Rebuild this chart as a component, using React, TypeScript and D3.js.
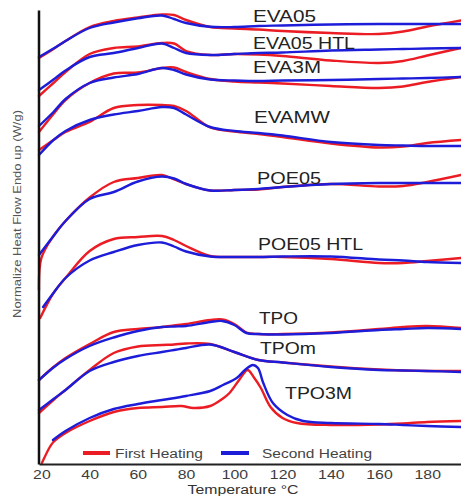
import React, { useEffect, useRef } from "react";
import * as d3 from "d3";

const width = 461;
const height = 496;
const font = "'Liberation Sans', Arial, sans-serif";
const red = "#ec1c24";
const blue = "#1c1cd9";

// temperature grid (°C) shared by most traces
const tempGrid = [19, 25, 30, 40, 50, 60, 70, 75, 80, 90, 100, 110, 120, 140, 160, 170, 180, 194];
const tickTemps = [20, 40, 60, 80, 100, 120, 140, 160, 180];

// normalized heat flow, stacked offsets (a.u.)
const eva05First = [406, 415, 423, 437, 443, 446.5, 449.5, 449, 444, 437, 435.5, 434.5, 433, 431, 430, 432.5, 437.5, 443.5];
const eva05Second = [407, 415.5, 423, 436, 441.5, 445.7, 448.5, 445, 441, 437.2, 437, 438, 438.5, 439.5, 440, 440, 440, 440];

const eva05HtlFirst = [368, 381, 392, 410, 416, 417.5, 421, 420.5, 413, 409, 410, 409.5, 408, 403.5, 401, 403, 408.5, 416];
const eva05HtlSecond = [374, 384.5, 393.5, 407, 411, 416, 420.5, 416, 411, 409, 410, 411, 411.5, 413.5, 414.5, 415, 415.5, 416];

const eva3mFirst = [332, 350, 364, 381, 390.5, 391.5, 396, 396.5, 392, 385, 382.5, 381.5, 380.5, 378, 376, 377.5, 382, 387];
const eva3mSecond = [338, 352, 365, 381, 386.5, 390, 396, 394, 389.5, 384.5, 383.5, 383, 383.5, 384, 385, 385.5, 386, 387];

const evamwFirst = [314, 324, 332, 342, 356, 359, 359, 358, 353, 336.5, 332.5, 330, 327, 320.5, 316.5, 317.5, 321, 324];
const evamwSecond = [309, 324, 333, 344, 349.5, 353, 357, 356, 349.5, 337, 333, 331, 328.5, 322, 319, 318.5, 318, 318];

const poe05FirstTemps = [19, 20, 25, 30, 40, 50, 60, 70, 75, 80, 90, 100, 110, 120, 140, 160, 170, 180, 194];
const poe05First = [174, 206, 228, 243, 266.5, 282, 286, 289, 284.5, 280, 273.5, 274, 274.5, 277, 280, 277.5, 278, 282, 289];
const poe05Second = [209, 228, 243, 265, 272, 282.5, 287.5, 285.5, 280, 273.5, 274, 275, 277, 280, 281, 281, 281, 281];

const poeHtlFirstTemps = [19.5, 25, 30, 40, 50, 60, 70, 75, 80, 90, 100, 110, 120, 140, 160, 170, 180, 194];
const poeHtlFirst = [146, 171, 186, 213, 225, 227, 228, 224, 218, 208, 207, 207, 207, 205, 201, 201, 203, 206];
const poeHtlSecondTemps = [20.7, 25, 30, 40, 50, 60, 70, 75, 80, 90, 100, 110, 120, 140, 160, 170, 180, 194];
const poeHtlSecond = [157, 171, 186, 203.5, 212, 219, 221.5, 217.5, 212.5, 207.5, 207, 207, 207.5, 207.5, 204.5, 203.5, 202, 201];

const tpoTemps = [19, 25, 30, 40, 50, 60, 70, 75, 80, 90, 95, 100, 105, 110, 120, 140, 160, 170, 180, 194];
const tpoFirst = [84, 97, 106, 120, 132, 135, 137, 138.5, 140, 144, 144.5, 140, 131.5, 130, 130, 131.5, 135, 137, 138, 136];
const tpoSecond = [84, 96.5, 105, 118, 126.5, 133, 137, 137.5, 138, 142, 143, 139, 131, 130, 129.5, 131, 134, 135, 136, 135];

const tpomFirst = [51, 64, 74, 94, 111, 117.5, 119, 119.5, 120.5, 120, 112, 104, 101.5, 97.5, 94.5, 93.5, 93, 93];
const tpomSecond = [54, 65, 74, 93, 102, 108, 112, 114, 116, 119.5, 112, 104, 101.5, 97, 94, 93.5, 93, 92];

const tpo3mFirstTemps = [20.2, 23.5, 25, 30, 40, 50, 60, 70, 78, 83, 90, 95, 98, 102, 105.5, 108, 111, 115, 120, 126, 140, 160, 170, 180, 194];
const tpo3mFirst = [1, 17, 22, 31, 43, 52, 56, 57, 58, 56, 58, 65, 71, 84, 94, 87, 76, 57, 46, 41, 39, 39.5, 40.5, 42, 43];
const tpo3mSecondTemps = [24.8, 30, 40, 50, 60, 70, 80, 90, 95.3, 101, 104.4, 107.7, 109.8, 112, 116, 122, 128.5, 140, 160, 170, 180, 194];
const tpo3mSecond = [24, 33, 46, 55, 60, 64, 68, 73, 79, 86, 94, 99, 96, 81, 61, 49, 43, 41, 40, 39, 38, 37];

const sampleNames = ["EVA05", "EVA05 HTL", "EVA3M", "EVAMW", "POE05", "POE05 HTL", "TPO", "TPOm", "TPO3M"];

const series = [
  { first: [tempGrid, eva05First], second: [tempGrid, eva05Second] },
  { first: [tempGrid, eva05HtlFirst], second: [tempGrid, eva05HtlSecond] },
  { first: [tempGrid, eva3mFirst], second: [tempGrid, eva3mSecond] },
  { first: [tempGrid, evamwFirst], second: [tempGrid, evamwSecond] },
  { first: [poe05FirstTemps, poe05First], second: [tempGrid, poe05Second] },
  { first: [poeHtlFirstTemps, poeHtlFirst], second: [poeHtlSecondTemps, poeHtlSecond] },
  { first: [tpoTemps, tpoFirst], second: [tpoTemps, tpoSecond] },
  { first: [tempGrid, tpomFirst], second: [tempGrid, tpomSecond] },
  { first: [tpo3mFirstTemps, tpo3mFirst], second: [tpo3mSecondTemps, tpo3mSecond] },
];

// label placement: [x, baseline, width]
const labelBoxes = [
  [253, 22, 63],
  [253, 49, 102],
  [253, 73, 68],
  [254, 123, 76],
  [257, 184, 64],
  [258, 250, 105],
  [259, 324, 39],
  [260, 354, 56],
  [285, 399, 67],
];

const xScale = d3.scaleLinear().domain([19, 194]).range([39, 461]);
const yScale = d3.scaleLinear().domain([0, 454]).range([464, 10]);

const line = d3
  .line<[number, number]>()
  .x((d) => xScale(d[0]))
  .y((d) => yScale(d[1]))
  .curve(d3.curveCatmullRom.alpha(0.5));

const toPath = (pair: number[][]) => line(pair[0].map((t, i) => [t, pair[1][i]] as [number, number])) || "";

export default function App() {
  const xAxisRef = useRef<SVGGElement>(null);
  const yAxisRef = useRef<SVGGElement>(null);

  useEffect(() => {
    const gx = d3.select(xAxisRef.current);
    gx.call(d3.axisBottom(xScale).tickValues(tickTemps).tickSize(0).tickSizeOuter(0).tickPadding(5));
    gx.select(".domain").attr("stroke", "#222").attr("stroke-width", 2.2);
    gx.selectAll("text")
      .attr("font-family", font)
      .attr("font-size", 13.5)
      .attr("fill", "#3c3c3c")
      .attr("textLength", (d: any) => String(d).length * 8.8)
      .attr("lengthAdjust", "spacingAndGlyphs");

    const gy = d3.select(yAxisRef.current);
    gy.call(d3.axisLeft(yScale).tickValues([]).tickSizeOuter(0));
    gy.select(".domain").attr("stroke", "#111").attr("stroke-width", 2.5);
  }, []);

  return (
    <svg width={width} height={height} style={{ position: "absolute", left: 0, top: 0, background: "#fff" }}>
      <rect width={width} height={height} fill="#fff" />
      {series.map((s, i) => (
        <g key={i} fill="none" strokeWidth={2.4} strokeLinecap="round" strokeLinejoin="round">
          <path d={toPath(s.first)} stroke={red} />
          <path d={toPath(s.second)} stroke={blue} />
        </g>
      ))}
      {sampleNames.map((name, i) => (
        <text
          key={name}
          x={labelBoxes[i][0]}
          y={labelBoxes[i][1]}
          fontFamily={font}
          fontSize={16.5}
          fill="#222"
          textLength={labelBoxes[i][2]}
          lengthAdjust="spacingAndGlyphs"
        >
          {name}
        </text>
      ))}
      <g ref={xAxisRef} transform="translate(0,464)" />
      <g ref={yAxisRef} transform="translate(38.5,0)" />

      {/* legend */}
      <line x1={83} x2={110} y1={453} y2={453} stroke={red} strokeWidth={4} />
      <text x={115} y={458} fontFamily={font} fontSize={12.5} fill="#444" textLength={88} lengthAdjust="spacingAndGlyphs">
        First Heating
      </text>
      <line x1={221} x2={249} y1={453} y2={453} stroke={blue} strokeWidth={4} />
      <text x={262} y={458} fontFamily={font} fontSize={12.5} fill="#444" textLength={110} lengthAdjust="spacingAndGlyphs">
        Second Heating
      </text>

      <text x={243} y={493.5} textAnchor="middle" fontFamily={font} fontSize={12.5} fill="#333" textLength={111} lengthAdjust="spacingAndGlyphs">
        Temperature °C
      </text>
      <text
        transform="translate(21,214) rotate(-90)"
        textAnchor="middle"
        fontFamily={font}
        fontSize={11.5}
        fill="#555"
        textLength={208}
        lengthAdjust="spacingAndGlyphs"
      >
        Normalize Heat Flow Endo up (W/g)
      </text>
    </svg>
  );
}
